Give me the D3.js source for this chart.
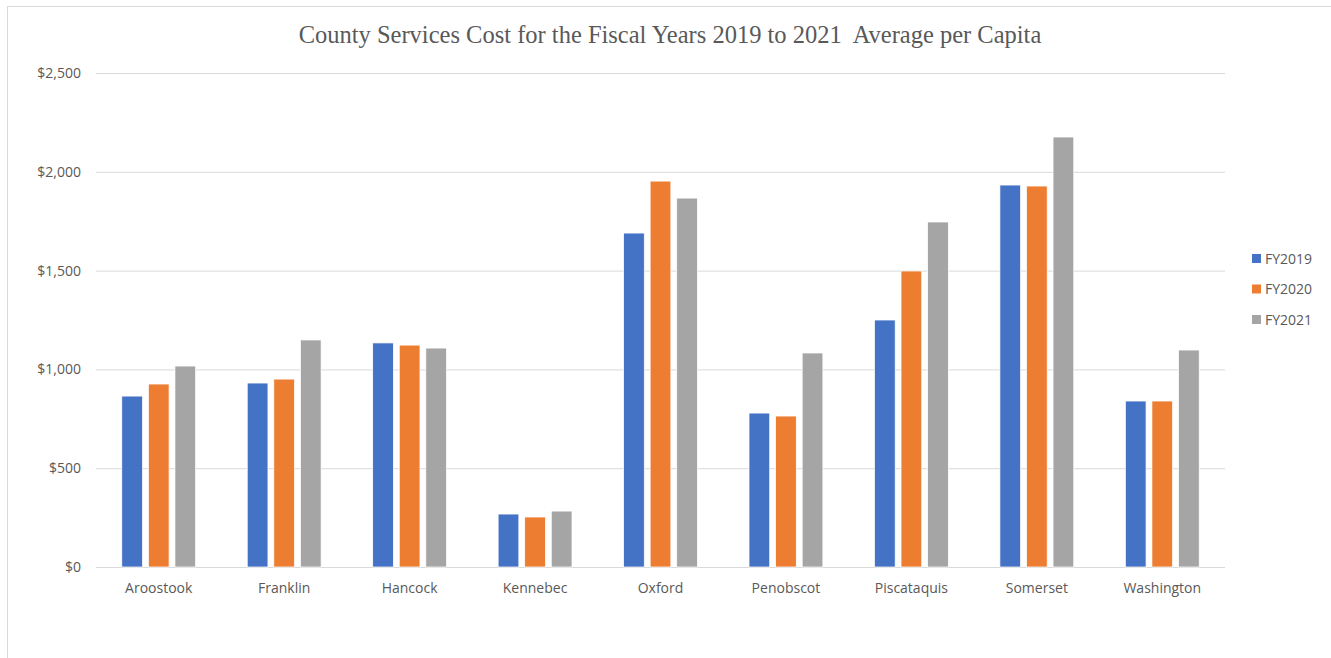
<html>
<head>
<style>
  body { margin: 0; background: #fff; }
  text { font-family: "Open Sans", "Liberation Sans", sans-serif; fill: #595959; }
</style>
</head>
<body>
<svg id="container" width="1331" height="658">
  <rect x="7.5" y="6.5" width="1340" height="670" fill="#fff" stroke="#d9d9d9" />
  <g id="body" />
  <g id="legend" />
</svg>
<script src="https://cdn.jsdelivr.net/npm/d3@7"></script>
<script>
  let counties = ["Aroostook", "Franklin", "Hancock", "Kennebec", "Oxford", "Penobscot", "Piscataquis", "Somerset", "Washington"]
  let seriesNames = ["FY2019", "FY2020", "FY2021"]
  let fy2019 = [865, 931, 1134, 268, 1690, 779, 1250, 1933, 840]
  let fy2020 = [926, 951, 1123, 253, 1953, 764, 1498, 1928, 840]
  let fy2021 = [1017, 1149, 1108, 283, 1867, 1083, 1746, 2176, 1098]
  let yTicks = [0, 500, 1000, 1500, 2000, 2500]
  let colors = ["#4472c4", "#ed7d31", "#a5a5a5"]

  let svg = d3.select("#container")
  let body = d3.select("#body")
  let legend = d3.select("#legend")

  let plotLeft = 96, plotRight = 1225, plotTop = 73, plotBottom = 567

  let x = d3.scaleBand().domain(counties).range([plotLeft, plotRight])
  let xInner = d3.scaleBand().domain(seriesNames).range([0, x.bandwidth()])
      .paddingInner(0.22).paddingOuter(0.97)
  let y = d3.scaleLinear().domain([0, 2500]).range([plotBottom, plotTop])

  let fmt = d => "$" + d3.format(",")(d)

  // gridlines
  body.selectAll(".grid").data(yTicks)
    .enter().append("line")
    .attr("x1", plotLeft).attr("x2", plotRight)
    .attr("y1", d => y(d) + 0.5).attr("y2", d => y(d) + 0.5)
    .attr("stroke", "#d9d9d9").attr("stroke-width", 1)

  body.selectAll(".ylab").data(yTicks)
    .enter().append("text")
    .attr("x", 81).attr("y", d => y(d))
    .attr("dy", "0.35em")
    .attr("text-anchor", "end")
    .style("font-size", "14px")
    .text(fmt)

  let series = [fy2019, fy2020, fy2021]
  series.forEach((vals, si) => {
    body.append("g").selectAll("rect").data(vals)
      .enter().append("rect")
      .attr("x", (d, i) => x(counties[i]) + xInner(seriesNames[si]))
      .attr("width", xInner.bandwidth())
      .attr("y", d => y(d))
      .attr("height", d => y(0) - y(d))
      .attr("fill", colors[si])
      .attr("stroke", "#fff")
      .attr("stroke-width", 0.75)
  })

  body.selectAll(".xlab").data(counties)
    .enter().append("text")
    .attr("x", d => x(d) + x.bandwidth() / 2)
    .attr("y", 593)
    .attr("text-anchor", "middle")
    .style("font-size", "14px")
    .text(d => d)

  // title
  svg.append("text")
    .attr("x", 670).attr("y", 43)
    .attr("text-anchor", "middle")
    .style("font-family", "'Liberation Serif', 'DejaVu Serif', serif")
    .style("font-size", "24.5px")
    .style("white-space", "pre")
    .text("County Services Cost for the Fiscal Years 2019 to 2021  Average per Capita")

  // legend
  let items = legend.selectAll("g").data(seriesNames)
    .enter().append("g")
    .attr("transform", (d, i) => `translate(1252, ${259 + i * 30.5})`)
  items.append("rect")
    .attr("y", -5).attr("width", 9).attr("height", 9)
    .attr("fill", (d, i) => colors[i])
  items.append("text")
    .attr("x", 13).attr("dy", "0.35em")
    .style("font-size", "14px")
    .text(d => d)
</script>
</body>
</html>
